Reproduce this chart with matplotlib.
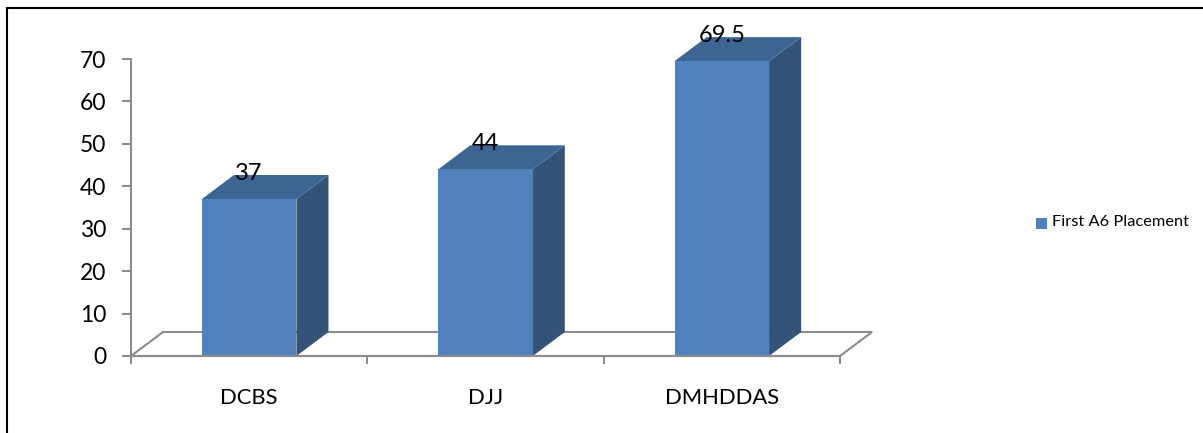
import matplotlib.pyplot as plt
from matplotlib.patches import Polygon, Rectangle
from matplotlib.lines import Line2D

categories = ["DCBS", "DJJ", "DMHDDAS"]
values = [37, 44, 69.5]
labels = ["37", "44", "69.5"]
yticks = [0, 10, 20, 30, 40, 50, 60, 70]
series_name = "First A6 Placement"

W, H = 1203, 433
FRONT = "#4F81BD"
TOP = "#3C6593"
SIDE = "#335379"
GRAY = "#8C8C8C"

plt.rcParams['font.family'] = ['Lato', 'DejaVu Sans']

fig = plt.figure(figsize=(W / 100, H / 100), dpi=100)

# axes box = the front floor edge up to the 70 tick
left, right, y0, y70 = 131, 840, 356, 59
ax = fig.add_axes([left / W, 1 - y0 / H, (right - left) / W, (y0 - y70) / H])
ax.set_xlim(0, 3)
ax.set_ylim(0, 70)

# depth of the 3d effect in data units
dx = 32 / 236
dy = 24 / ((y0 - y70) / 70)

# floor
floor = [(0, 0), (dx, dy), (3 + dx, dy), (3, 0)]
ax.add_patch(Polygon(floor, closed=True, fc="white", ec=GRAY, lw=1.5, clip_on=False, zorder=1))

# bars
bar_w = 0.4
for i, v in enumerate(values):
    x0 = i + 0.5 - bar_w / 2
    x1 = x0 + bar_w
    ax.add_patch(Polygon([(x1, 0), (x1 + dx, dy), (x1 + dx, v + dy), (x1, v)],
                         closed=True, fc=SIDE, ec="none", clip_on=False, zorder=2))
    ax.add_patch(Polygon([(x0, v), (x0 + dx, v + dy), (x1 + dx, v + dy), (x1, v)],
                         closed=True, fc=TOP, ec="none", clip_on=False, zorder=2))
    ax.add_patch(Rectangle((x0, 0), bar_w, v, fc=FRONT, ec="none", clip_on=False, zorder=3))
    ax.text(i + 0.5, v + 6.1, labels[i], ha="center", va="center",
            fontsize=17, color="black", zorder=5, clip_on=False)

# axes
for s in ("top", "right"):
    ax.spines[s].set_visible(False)
for s in ("left", "bottom"):
    ax.spines[s].set_color(GRAY)
    ax.spines[s].set_linewidth(1.5)
    ax.spines[s].set_zorder(4)
ax.patch.set_visible(False)
ax.set_yticks(yticks)
ax.set_xticks([0, 1, 2, 3])
ax.set_xticklabels([])
ax.tick_params(axis="y", color=GRAY, width=1.5, length=6.5, labelsize=16.5, pad=11.5)
ax.tick_params(axis="x", color=GRAY, width=1.5, length=6)
for i, c in enumerate(categories):
    ax.text(i + 0.5, -9.9, c, ha="center", va="center", fontsize=15.8, color="black")

# legend
fig.patches.append(Rectangle((1036 / W, 1 - 229 / H), 11 / W, 11 / H, transform=fig.transFigure,
                             fc=FRONT, ec="none"))
fig.text(1052 / W, 1 - 222 / H, series_name, ha="left", va="center", fontsize=11.8, color="black")

# only the top and left edges of the frame are in the picture
fig.add_artist(Line2D([7 / W, 7 / W], [0, 1 - 8 / H], color="black", lw=1.5,
                      solid_capstyle="projecting", transform=fig.transFigure))
fig.add_artist(Line2D([7 / W, 1], [1 - 8 / H, 1 - 8 / H], color="black", lw=1.5,
                      solid_capstyle="projecting", transform=fig.transFigure))

fig.savefig("out.png", dpi=100)
